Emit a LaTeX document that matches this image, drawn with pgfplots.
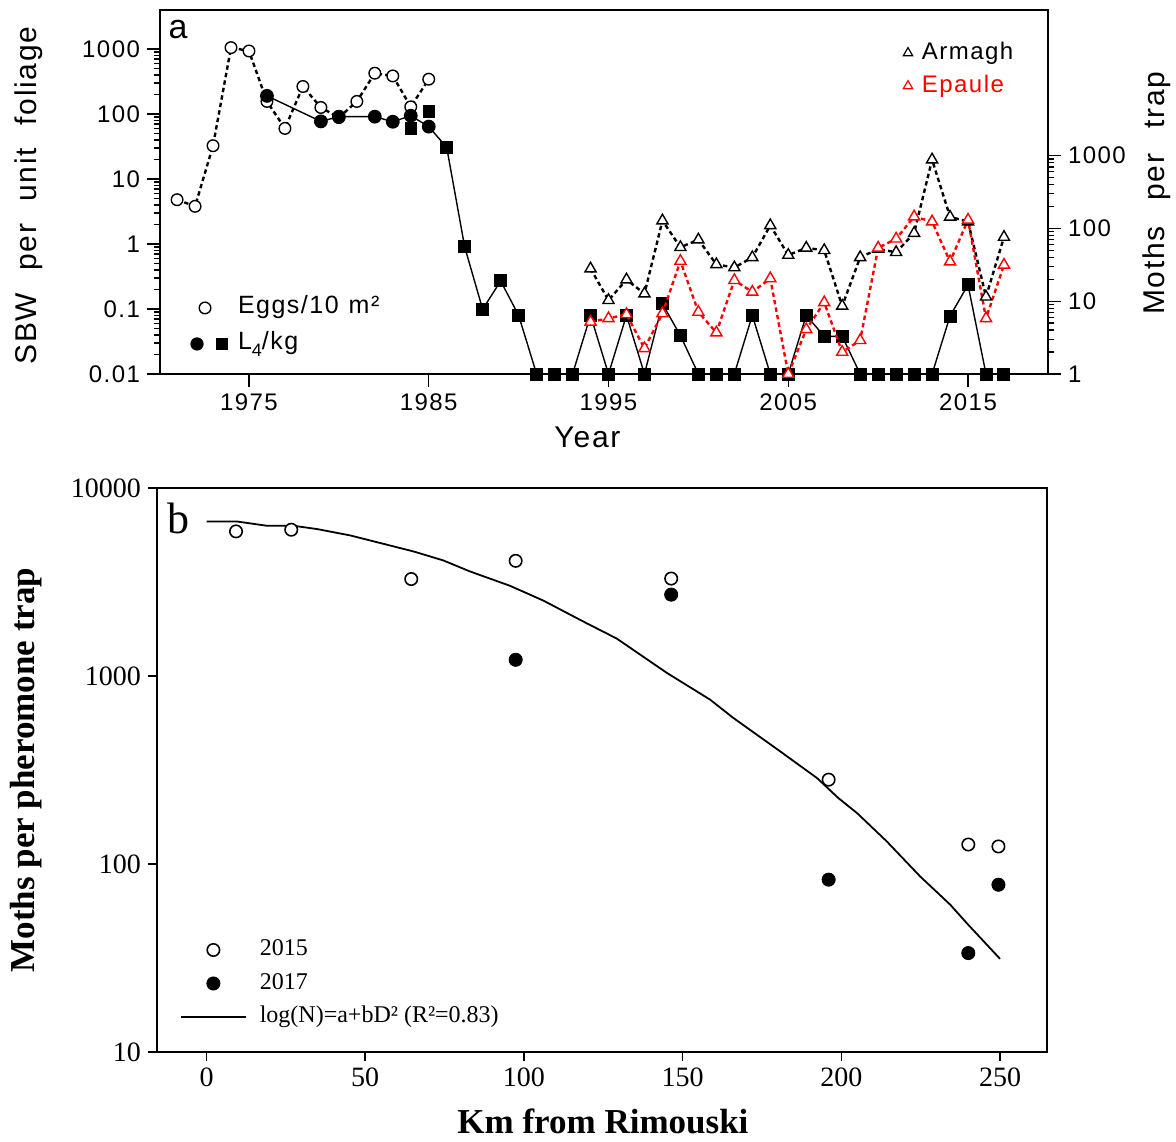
\documentclass[border=0pt]{standalone}
\usepackage{pgfplots}
\pgfplotsset{compat=1.18}
\usepackage{fontspec}
\setmainfont{Liberation Sans}
\newfontfamily\tsf[LetterSpace=6]{Liberation Sans}
\newfontfamily\tser{Liberation Serif}

\begin{document}
\begin{tikzpicture}
\path[use as bounding box] (0pt,0pt) rectangle (588pt,-570.5pt);

% ---------------- Panel a, left axis ----------------
\begin{axis}[
  at={(80pt,-187pt)}, anchor=south west,
  width=444pt, height=182pt, scale only axis,
  xmin=1970.05, xmax=2019.45,
  ymode=log, ymin=0.01, ymax=3980,
  xtick={1975,1985,1995,2005,2015},
  xticklabels={1975,1985,1995,2005,2015},
  ytick={0.01,0.1,1,10,100,1000},
  yticklabels={0.01,0.1,1,10,100,1000},
  tick align=outside, xtick pos=bottom, ytick pos=left,
  major tick length=6.5pt, minor tick length=2.8pt,
  axis line style={line width=0.8pt},
  every tick/.style={black, line width=0.7pt},
  tick label style={font=\tsf\fontsize{12}{14}\selectfont},
  clip=false,
  every axis y label/.style={at={(rel axis cs:-0.1475,0.4904)}, anchor=center, rotate=90, font=\tsf\fontsize{15}{18}\selectfont},
  every axis x label/.style={at={(rel axis cs:0.4814,-0.1731)}, anchor=center, font=\tsf\fontsize{15}{18}\selectfont},
  ylabel={SBW\hspace{6pt} per\hspace{6pt} unit\hspace{6pt} foliage},
  xlabel={Year},
  legend cell align=left,
  legend style={at={(rel axis cs:0.0338,0.132)}, anchor=west, draw=none, fill=none,
    inner sep=0pt, outer sep=0pt, row sep=6pt,
    font=\tsf\fontsize{12.5}{14}\selectfont,
    nodes={inner sep=0pt, text height=9pt, text depth=3pt},
    /tikz/every odd column/.append style={column sep=4pt}},
]
% Eggs / 10 m2
\addplot[forget plot, black, line width=1.2pt, dash pattern=on 2.2pt off 1.6pt,
  mark=*, mark size=2.9pt, mark options={solid, fill=white, draw=black, line width=0.7pt}]
  coordinates {(1971,4.8)(1972,3.8)(1973,32.5)(1974,1050)(1975,932)(1976,156)(1977,60)
  (1978,265)(1979,126)(1980,88)(1981,156)(1982,424)(1983,385)(1984,129)(1985,343)};
% L4/kg circles (line continues to 1986 square)
\addplot[forget plot, black, line width=0.7pt, mark=*, mark size=3.1pt, mark indices={1,2,3,4,5,6,7}]
  coordinates {(1976,190)(1979,77)(1980,91)(1982,91)(1983,76)(1984,94)(1985,64)(1986,30.6)};
% L4/kg squares
\addplot[forget plot, black, only marks, mark=square*, mark size=2.9pt]
  coordinates {(1984,60)(1985,109)};
\addplot[forget plot, black, line width=0.7pt, mark=square*, mark size=2.9pt]
  coordinates {(1986,30.6)(1987,0.9)(1988,0.099)(1989,0.27)(1990,0.08)(1991,0.01)(1992,0.01)
  (1993,0.01)(1994,0.08)(1995,0.01)(1996,0.08)(1997,0.01)(1998,0.12)(1999,0.039)(2000,0.01)
  (2001,0.01)(2002,0.01)(2003,0.08)(2004,0.01)(2005,0.01)(2006,0.08)(2007,0.038)(2008,0.038)
  (2009,0.01)(2010,0.01)(2011,0.01)(2012,0.01)(2013,0.01)(2014,0.078)(2015,0.235)(2016,0.01)(2017,0.01)};
\addlegendimage{legend image code/.code={
  \path[draw=none, fill=none] (0pt,-3pt) rectangle (20pt,3pt);
  \draw[black, mark=*, mark size=2.9pt, mark options={fill=white, draw=black, line width=0.7pt}] plot coordinates {(7.5pt,0pt)};}}
\addlegendentry{Eggs/10\hspace{5pt}m²}
\addlegendimage{legend image code/.code={
  \path[draw=none, fill=none] (0pt,-3pt) rectangle (20pt,3pt);
  \draw[black, mark=*, mark size=3.1pt] plot coordinates {(3.5pt,0pt)};
  \draw[black, mark=square*, mark size=2.9pt] plot coordinates {(16pt,0pt)};}}
\addlegendentry{L\raisebox{-0.5ex}{\fontsize{9}{9}\selectfont 4}/kg}
\end{axis}

% ---------------- Panel a, right axis ----------------
\begin{axis}[
  at={(80pt,-187pt)}, anchor=south west,
  width=444pt, height=182pt, scale only axis,
  xmin=1970.05, xmax=2019.45,
  ymode=log, ymin=1, ymax=100000,
  hide x axis, axis y line*=right,
  ytick={1,10,100,1000},
  yticklabels={1,10,100,1000},
  tick align=outside,
  major tick length=6.5pt, minor tick length=3.2pt,
  axis line style={line width=0.8pt},
  every tick/.style={black, line width=0.7pt},
  tick label style={font=\tsf\fontsize{12}{14}\selectfont},
  clip=false,
  every axis y label/.style={at={(rel axis cs:1.1228,0.4964)}, anchor=center, rotate=90, font=\tsf\fontsize{15}{18}\selectfont},
  ylabel={Moths\hspace{7.5pt} per\hspace{7.5pt} trap},
  legend cell align=left,
  legend style={at={(rel axis cs:0.8333,0.8365)}, anchor=west, draw=none, fill=none,
    inner sep=0pt, outer sep=0pt, row sep=4.5pt,
    font=\tsf\fontsize{12}{14}\selectfont,
    nodes={inner sep=0pt, text height=9pt, text depth=3pt},
    /tikz/every odd column/.append style={column sep=3pt}},
]
\addplot[forget plot, black, line width=1.2pt, dash pattern=on 2.2pt off 1.6pt,
  mark=triangle*, mark size=3.2pt, mark options={solid, fill=white, draw=black, line width=0.7pt}]
  coordinates {(1994,28)(1995,10.3)(1996,19.8)(1997,12.7)(1998,128)(1999,55)(2000,70)(2001,32)
  (2002,29)(2003,40)(2004,110)(2005,43)(2006,54)(2007,50)(2008,8.6)(2009,40)(2010,52)(2011,47)
  (2012,86)(2013,880)(2014,144)(2015,124)(2016,11.5)(2017,76)};
\addplot[forget plot, red, line width=1.2pt, dash pattern=on 2.2pt off 1.6pt,
  mark=triangle*, mark size=3.2pt, mark options={solid, fill=white, draw=red, line width=0.7pt}]
  coordinates {(1994,5.2)(1995,5.8)(1996,6.6)(1997,2.25)(1998,6.8)(1999,35.6)(2000,7.1)(2001,3.7)
  (2002,19.4)(2003,13.4)(2004,20.5)(2005,1.0)(2006,4.1)(2007,9.6)(2008,2.0)(2009,2.9)(2010,54)
  (2011,72)(2012,145)(2013,124)(2014,35)(2015,131)(2016,5.8)(2017,31.5)};
\addlegendimage{legend image code/.code={
  \path[draw=none, fill=none] (0pt,-3pt) rectangle (8pt,3pt);
  \draw[black, mark=triangle*, mark size=2.7pt, mark options={fill=white, draw=black, line width=0.6pt}] plot coordinates {(4pt,0pt)};}}
\addlegendentry{Armagh}
\addlegendimage{legend image code/.code={
  \path[draw=none, fill=none] (0pt,-3pt) rectangle (8pt,3pt);
  \draw[red, mark=triangle*, mark size=2.7pt, mark options={fill=white, draw=red, line width=0.6pt}] plot coordinates {(4pt,0pt)};}}
\addlegendentry{\textcolor{red}{Epaule}}
\end{axis}

\node[font=\fontsize{17}{20}\selectfont, anchor=center] at (89pt,-14.75pt) {a};

% ---------------- Panel b ----------------
\begin{axis}[
  at={(78.5pt,-526pt)}, anchor=south west,
  width=445pt, height=282pt, scale only axis,
  xmin=-15.6, xmax=264.8,
  ymode=log, ymin=10, ymax=10000,
  xtick={0,50,100,150,200,250},
  xticklabels={0,50,100,150,200,250},
  ytick={10,100,1000,10000},
  yticklabels={10,100,1000,10000},
  yminorticks=false,
  tick align=outside, xtick pos=bottom, ytick pos=left,
  major tick length=4.5pt,
  axis line style={line width=0.9pt},
  every tick/.style={black, line width=0.8pt},
  tick label style={font=\tser\fontsize{14}{16}\selectfont},
  every axis y label/.style={at={(rel axis cs:-0.1472,0.5)}, anchor=center, rotate=90, font=\tser\bfseries\fontsize{17.5}{20}\selectfont},
  every axis x label/.style={at={(rel axis cs:0.5011,-0.1225)}, anchor=center, font=\tser\bfseries\fontsize{17.5}{20}\selectfont},
  ylabel={Moths per pheromone trap},
  xlabel={Km from Rimouski},
  legend cell align=left,
  legend image code/.code={
    \path[draw=none, fill=none] (0pt,-3pt) rectangle (32.5pt,3pt);
    \draw[mark repeat=2, mark phase=2, #1] plot coordinates {(0pt,0pt) (16.25pt,0pt) (32.5pt,0pt)};},
  legend style={at={(rel axis cs:0.02584,0.1215)}, anchor=west, draw=none, fill=none,
    inner sep=0pt, outer sep=0pt, row sep=5.75pt,
    font=\tser\fontsize{12}{14}\selectfont,
    nodes={inner sep=0pt, text height=8.5pt, text depth=2.5pt},
    /tikz/every odd column/.append style={column sep=6.5pt}},
]
% fitted curve log(N)=a+bD^2
\addplot[forget plot, black, line width=0.9pt]
  coordinates {(0,6640)(9.5,6640)(19.0,6300)(27.4,6300)(34.8,6050)(45.2,5600)(55.7,5050)(65.2,4600)
  (74.6,4120)(83.0,3600)(95.6,3020)(106.1,2520)(118.7,1950)(129.3,1580)(145.0,1040)(158.7,748)
  (166.0,598)(179.7,409)(192.3,287)(199.1,224)(204.9,187)(214.3,132)(224.8,86)(234.3,60.8)
  (239.5,48.5)(250,31.3)};
\addplot[black, only marks, mark=*, mark size=3.1pt, mark options={line width=0.8pt, fill=white, draw=black}]
  coordinates {(9.3,5880)(26.7,6000)(64.5,3280)(97.4,4100)(146.4,3300)(196,281)(240,127)(249.5,124)};
\addlegendentry{2015}
\addplot[black, only marks, mark=*, mark size=3.3pt]
  coordinates {(97.4,1220)(146.4,2710)(196,82.6)(240,33.6)(249.5,77.6)};
\addlegendentry{2017}
\addlegendimage{black, line width=0.9pt}
\addlegendentry{log(N)=a+bD² (R²=0.83)}
\end{axis}

\node[font=\tser\fontsize{22}{24}\selectfont, anchor=center] at (89pt,-259pt) {b};
\end{tikzpicture}
\end{document}
